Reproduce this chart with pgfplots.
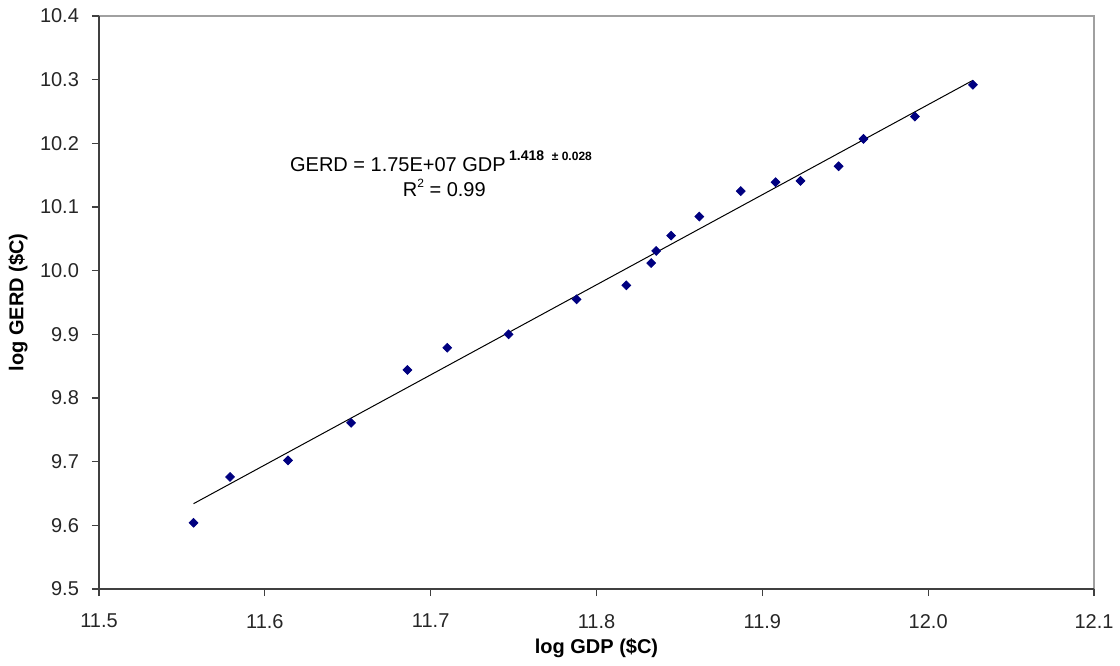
\documentclass[border=0pt]{standalone}
\usepackage{pgfplots}
\pgfplotsset{compat=1.18}
\usepackage{fontspec}
\setmainfont{Liberation Sans}
\definecolor{navymark}{RGB}{0,0,128}
\definecolor{axdark}{RGB}{64,64,64}
\definecolor{axlight}{RGB}{160,160,160}
\begin{document}
\begin{tikzpicture}
\path[use as bounding box] (-49.5pt,-38pt) rectangle (510.5pt,294.5pt);
\begin{axis}[
  scale only axis,
  width=497.5pt, height=286.5pt,
  xmin=11.5, xmax=12.1, ymin=9.5, ymax=10.4,
  xtick distance=0.1, ytick distance=0.1,
  axis line style={draw=none},
  tick style={axdark, line width=0.6pt},
  tick align=outside,
  major tick length=3.5pt,
  xtick pos=bottom, ytick pos=left,
  /pgf/number format/assume math mode=true,
  /pgf/number format/.cd, fixed, fixed zerofill, precision=1,
  /pgfplots/.cd,
  tick label style={font=\fontsize{10}{12}\selectfont, text=black!85},
  xticklabel style={yshift=-5.5pt},
  yticklabel style={xshift=-3pt},
  xlabel={\textbf{log GDP (\$C)}},
  ylabel={\textbf{log GERD (\$C)}},
  label style={font=\fontsize{10}{12}\selectfont},
  xlabel style={at={(axis description cs:0.5,-0.1117)}, anchor=base},
  ylabel style={at={(axis description cs:-0.0814,0.5)}, anchor=center},
  clip=false,
]
\draw[axlight, line width=0.7pt] (rel axis cs:0,1) -- (rel axis cs:1,1) -- (rel axis cs:1,0);
\draw[axdark, line width=0.7pt] (rel axis cs:0,1) -- (rel axis cs:0,0) -- (rel axis cs:1,0);
\addplot[black, line width=0.5pt, no marks] coordinates {(11.557,9.634) (12.027,10.299)};
\addplot[only marks, mark=square*, mark size=1.55pt,
  mark options={rotate=45, fill=navymark, draw=navymark}] coordinates {
(11.557,9.604)
(11.579,9.676)
(11.614,9.702)
(11.652,9.761)
(11.686,9.844)
(11.710,9.879)
(11.747,9.900)
(11.788,9.955)
(11.818,9.977)
(11.833,10.012)
(11.836,10.031)
(11.845,10.055)
(11.862,10.085)
(11.887,10.125)
(11.908,10.139)
(11.923,10.141)
(11.946,10.164)
(11.961,10.207)
(11.992,10.242)
(12.027,10.292)
};
\node[anchor=base west, inner sep=0pt, font=\fontsize{10}{12}\selectfont] at (axis cs:11.615,10.155)
  {GERD = 1.75E+07 GDP\,\raisebox{1.1ex}{\bfseries\fontsize{7}{8}\selectfont 1.418\ \ \fontsize{6}{7}\selectfont ± 0.028}};
\node[anchor=base west, inner sep=0pt, font=\fontsize{10}{12}\selectfont] at (axis cs:11.683,10.116)
  {R\raisebox{0.9ex}{\fontsize{6}{7}\selectfont 2} = 0.99};
\end{axis}
\end{tikzpicture}
\end{document}
